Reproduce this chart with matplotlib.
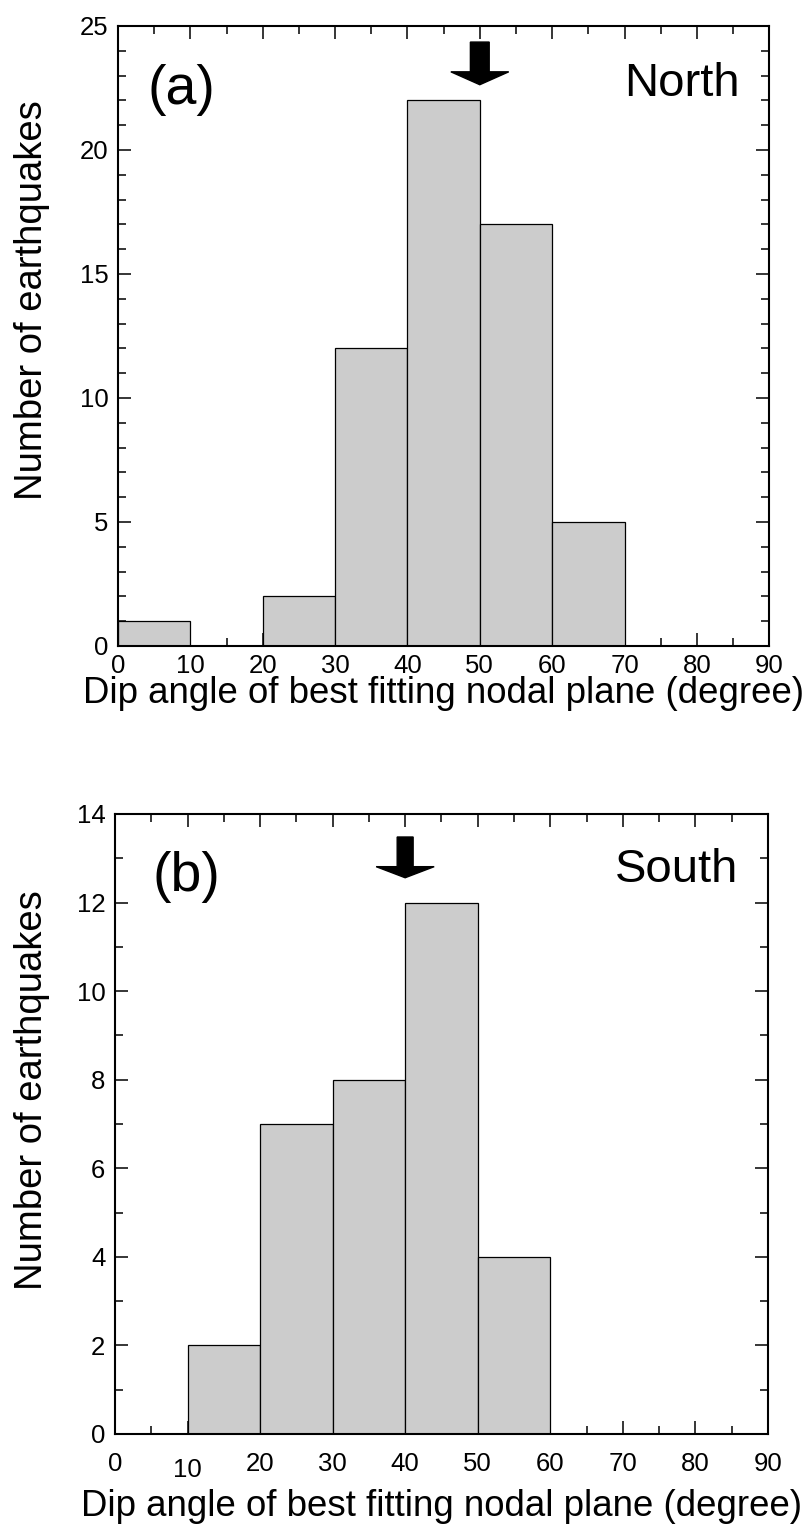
import matplotlib
matplotlib.use("Agg")
import matplotlib.pyplot as plt
import numpy as np
from matplotlib.ticker import MultipleLocator
import matplotlib.transforms as mtransforms

plt.rcParams['font.family'] = ['Liberation Sans', 'DejaVu Sans']

bin_edges = [0, 10, 20, 30, 40, 50, 60, 70, 80, 90]
north_counts = [1, 0, 2, 12, 22, 17, 5, 0, 0]
south_counts = [0, 2, 7, 8, 12, 4, 0, 0, 0]
north_arrow_x = 50
south_arrow_x = 40
xlabel = "Dip angle of best fitting nodal plane (degree)"
ylabel = "Number of earthquakes"

fig = plt.figure(figsize=(8.11, 15.26), dpi=100)
ax1 = fig.add_axes([0.1455, 0.5767, 0.803, 0.4063])
ax2 = fig.add_axes([0.1418, 0.0603, 0.805, 0.4063])

def style(ax, ymax, ymaj, xpad):
    ax.set_xlim(0, 90)
    ax.set_ylim(0, ymax)
    ax.xaxis.set_major_locator(MultipleLocator(10))
    ax.xaxis.set_minor_locator(MultipleLocator(5))
    ax.yaxis.set_major_locator(MultipleLocator(ymaj))
    ax.yaxis.set_minor_locator(MultipleLocator(1))
    ax.tick_params(which='both', direction='in', top=True, right=True, width=1.1)
    ax.tick_params(which='major', length=9.5, labelsize=18.5)
    ax.tick_params(which='minor', length=5.5)
    ax.tick_params(axis='x', which='major', pad=xpad)
    ax.tick_params(axis='y', which='major', pad=7)
    for s in ax.spines.values():
        s.set_linewidth(1.5)

def draw(ax, counts):
    lefts = np.array(bin_edges[:-1])
    widths = np.diff(bin_edges)
    c = np.array(counts)
    m = c > 0
    ax.bar(lefts[m], c[m], width=widths[m], align='edge', color='#cccccc',
           edgecolor='black', linewidth=0.9, zorder=2)

draw(ax1, north_counts)
style(ax1, 25, 5, 6)
ax1.set_xlabel(xlabel, fontsize=26.4, labelpad=-2)
ax1.set_ylabel(ylabel, fontsize=27.5)
ax1.yaxis.set_label_coords(-0.104, 0.558)
ax1.arrow(north_arrow_x, 24.35, 0, -1.72, width=2.6, head_width=8,
          head_length=0.52, length_includes_head=True, color='black', zorder=3)
ax1.text(0.045, 0.897, "(a)", transform=ax1.transAxes, fontsize=40, va='center', ha='left')
ax1.text(0.955, 0.887, "North", transform=ax1.transAxes, fontsize=34, va='baseline', ha='right')

draw(ax2, south_counts)
style(ax2, 14, 2, 13)
ax2.set_xlabel(xlabel, fontsize=26.4, labelpad=5)
ax2.set_ylabel(ylabel, fontsize=27.5)
ax2.yaxis.set_label_coords(-0.100, 0.555)
ax2.arrow(south_arrow_x, 13.48, 0, -0.92, width=2.2, head_width=8,
          head_length=0.25, length_includes_head=True, color='black', zorder=3)
ax2.text(0.058, 0.898, "(b)", transform=ax2.transAxes, fontsize=40, va='center', ha='left')
ax2.text(0.955, 0.890, "South", transform=ax2.transAxes, fontsize=34, va='baseline', ha='right')

# the "10" label in the lower panel sits a little lower in the original
fig.canvas.draw()
for lbl in ax2.get_xticklabels():
    if lbl.get_text() == '10':
        lbl.set_transform(lbl.get_transform() + mtransforms.ScaledTranslation(0, -4/72, fig.dpi_scale_trans))

fig.savefig("out.png", dpi=100)
